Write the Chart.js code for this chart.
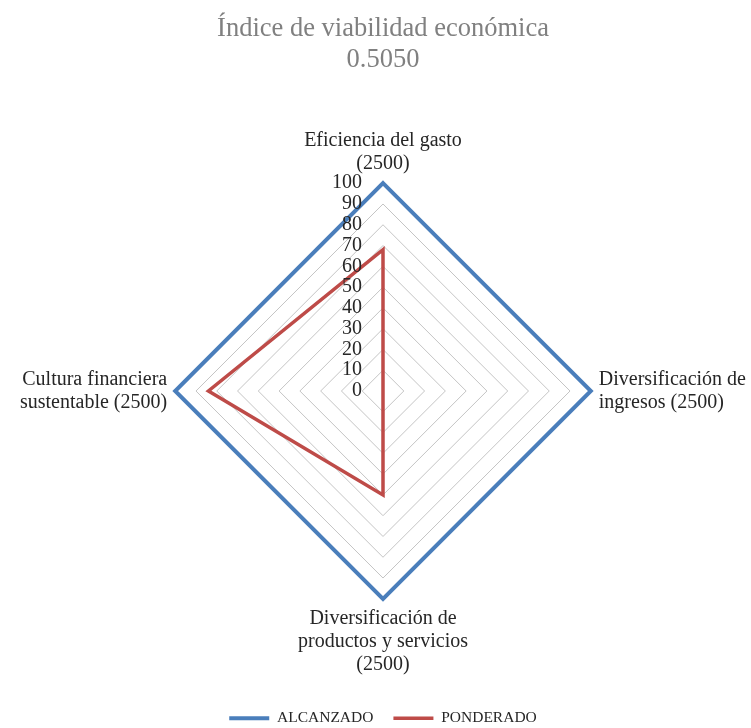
<!DOCTYPE html>
<html>
<head>
<meta charset="utf-8">
<script src="https://cdn.jsdelivr.net/npm/chart.js@4.4.0/dist/chart.umd.min.js"></script>
<style>
  html, body { margin: 0; padding: 0; background: #ffffff; }
  #wrap { width: 751px; height: 728px; }
</style>
</head>
<body>
<div id="wrap"><canvas id="c" width="751" height="728"></canvas></div>
<script>
const categories = [
  ["Eficiencia del gasto", "(2500)"],
  ["Diversificación de", "ingresos (2500)"],
  ["Diversificación de", "productos y servicios", "(2500)"],
  ["Cultura financiera", "sustentable (2500)"]
];
const alcanzado = [100, 100, 100, 100];
const ponderado = [68, 0, 50, 84];
const tickValues = [0, 10, 20, 30, 40, 50, 60, 70, 80, 90, 100];
const titleLines = ["Índice de viabilidad económica", "0.5050"];

const SERIF = "'Liberation Serif', 'DejaVu Serif', serif";

const leftTicks = {
  id: 'leftTicks',
  afterDatasetsDraw(chart) {
    const s = chart.scales.r;
    const ctx = chart.ctx;
    ctx.save();
    ctx.font = "20px " + SERIF;
    ctx.fillStyle = "#262626";
    ctx.textAlign = "right";
    ctx.textBaseline = "middle";
    tickValues.forEach(v => {
      const d = s.getDistanceFromCenterForValue(v);
      ctx.fillText(String(v), s.xCenter - 21, s.yCenter - d);
    });
    ctx.restore();
  }
};

new Chart(document.getElementById('c'), {
  type: 'radar',
  data: {
    labels: categories,
    datasets: [
      { label: 'ALCANZADO', data: alcanzado, borderColor: '#4a7ebb', backgroundColor: 'transparent',
        borderWidth: 4, pointRadius: 0, pointHoverRadius: 0, fill: false, tension: 0 },
      { label: 'PONDERADO', data: ponderado, borderColor: '#be4b48', backgroundColor: 'transparent',
        borderWidth: 3.5, pointRadius: 0, pointHoverRadius: 0, fill: false, tension: 0 }
    ]
  },
  options: {
    responsive: false,
    animation: false,
    layout: { padding: { left: 20, right: 5, top: 0, bottom: -8 } },
    plugins: {
      title: {
        display: true,
        text: titleLines,
        color: '#808080',
        font: { family: SERIF, size: 26.5, weight: 'normal', lineHeight: 1.17 },
        padding: { top: 14, bottom: 39 }
      },
      legend: {
        position: 'bottom',
        labels: {
          usePointStyle: true,
          pointStyle: 'line',
          pointStyleWidth: 40,
          color: '#262626',
          font: { family: SERIF, size: 15.5 },
          padding: 20
        }
      },
      tooltip: { enabled: false }
    },
    scales: {
      r: {
        min: 0,
        max: 100,
        beginAtZero: true,
        ticks: { stepSize: 10, display: false },
        angleLines: { display: false },
        grid: { color: '#c4c4c4', lineWidth: 1 },
        pointLabels: {
          color: '#262626',
          font: { family: SERIF, size: 20, lineHeight: 1.15 },
          padding: 8
        }
      }
    }
  },
  plugins: [leftTicks]
});
</script>
</body>
</html>
